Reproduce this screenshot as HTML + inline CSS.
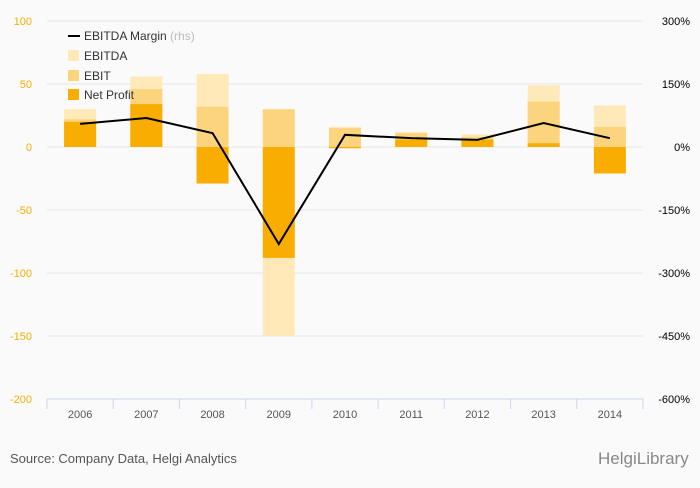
<!DOCTYPE html>
<html><head><meta charset="utf-8"><style>
body{margin:0;background:#fafafa;font-family:"Liberation Sans",sans-serif;}
</style></head><body>
<svg id="c" width="700" height="483" xmlns="http://www.w3.org/2000/svg" style="background:#fafafa">
<g id="grid"></g><g id="bars"></g><g id="line"></g><g id="axes"></g>
<g font-size="12">
<line x1="68" y1="36" x2="80" y2="36" stroke="#000" stroke-width="2"/>
<text x="84" y="40" fill="#333">EBITDA Margin <tspan fill="#bbb">(rhs)</tspan></text>
<rect x="68" y="50" width="11" height="11" fill="#ffe9b8"/><text x="84" y="60" fill="#333">EBITDA</text>
<rect x="68" y="70" width="11" height="11" fill="#fdd47e"/><text x="84" y="80" fill="#333">EBIT</text>
<rect x="68" y="89" width="11" height="11" fill="#f9ad00"/><text x="84" y="99" fill="#333">Net Profit</text>
</g>
<text x="10" y="463" font-size="13" fill="#555">Source: Company Data, Helgi Analytics</text>
<text x="598" y="464" font-size="17" fill="#888">HelgiLibrary</text>
</svg>
<script>
const years=["2006","2007","2008","2009","2010","2011","2012","2013","2014"];
const ebitda=[30,56,58,-150,16,12,10,49,33];
const ebit=[22,46,32,30,15,11,8,36,16];
const netProfit=[20,34,-29,-88,-1,6,6,3,-21];
const margin=[55,69,33,-231,29,21,17,57,21];
const leftTicks=[100,50,0,-50,-100,-150,-200];
const rightTicks=["300%","150%","0%","-150%","-300%","-450%","-600%"];
const NS="http://www.w3.org/2000/svg";
const x0=47,x1=643,bw=(x1-x0)/years.length;
const y=v=>147-v*1.26;
const yr=v=>147-v*0.42;
const xc=i=>x0+bw*(i+0.5);
function mk(t,a,p){const e=document.createElementNS(NS,t);for(const k in a)e.setAttribute(k,a[k]);document.getElementById(p).appendChild(e);return e;}
leftTicks.forEach((t,i)=>{
 const g=mk('line',{x1:x0,x2:x1,y1:y(t),y2:y(t),stroke:i==6?'#ccd6eb':'#e6e6e6'},'grid');
 
 
 const l=mk('text',{x:32,y:y(t)+4,'text-anchor':'end','font-size':11,fill:'#f9ad00'},'axes');l.textContent=t;
 
 
 const r=mk('text',{x:690,y:y(t)+4,'text-anchor':'end','font-size':11,fill:'#000'},'axes');r.textContent=rightTicks[i];
 
 
});
years.forEach((yv,i)=>{
 const tk=mk('line',{x1:x0+bw*i,x2:x0+bw*i,y1:399,y2:409,stroke:'#ccd6eb'},'axes');
 
 
 const t=mk('text',{x:xc(i),y:418,'text-anchor':'middle','font-size':11,fill:'#555'},'axes');t.textContent=yv;
 
 
 [[ebitda,'#ffe9b8','bar-ebitda'],[ebit,'#fdd47e','bar-ebit'],[netProfit,'#f9ad00','bar-net-profit']].forEach(([arr,c,n])=>{
  const v=arr[i];const r=mk('rect',{x:xc(i)-16,width:32,y:Math.min(y(v),y(0)),height:Math.abs(y(v)-y(0)),fill:c},'bars');
  
  
 });
});
const end=mk('line',{x1:x1,x2:x1,y1:399,y2:409,stroke:'#ccd6eb'},'axes');


const p=mk('polyline',{points:margin.map((m,i)=>xc(i)+','+yr(m)).join(' '),fill:'none',stroke:'#000','stroke-width':2},'line');


</script>
</body></html>
